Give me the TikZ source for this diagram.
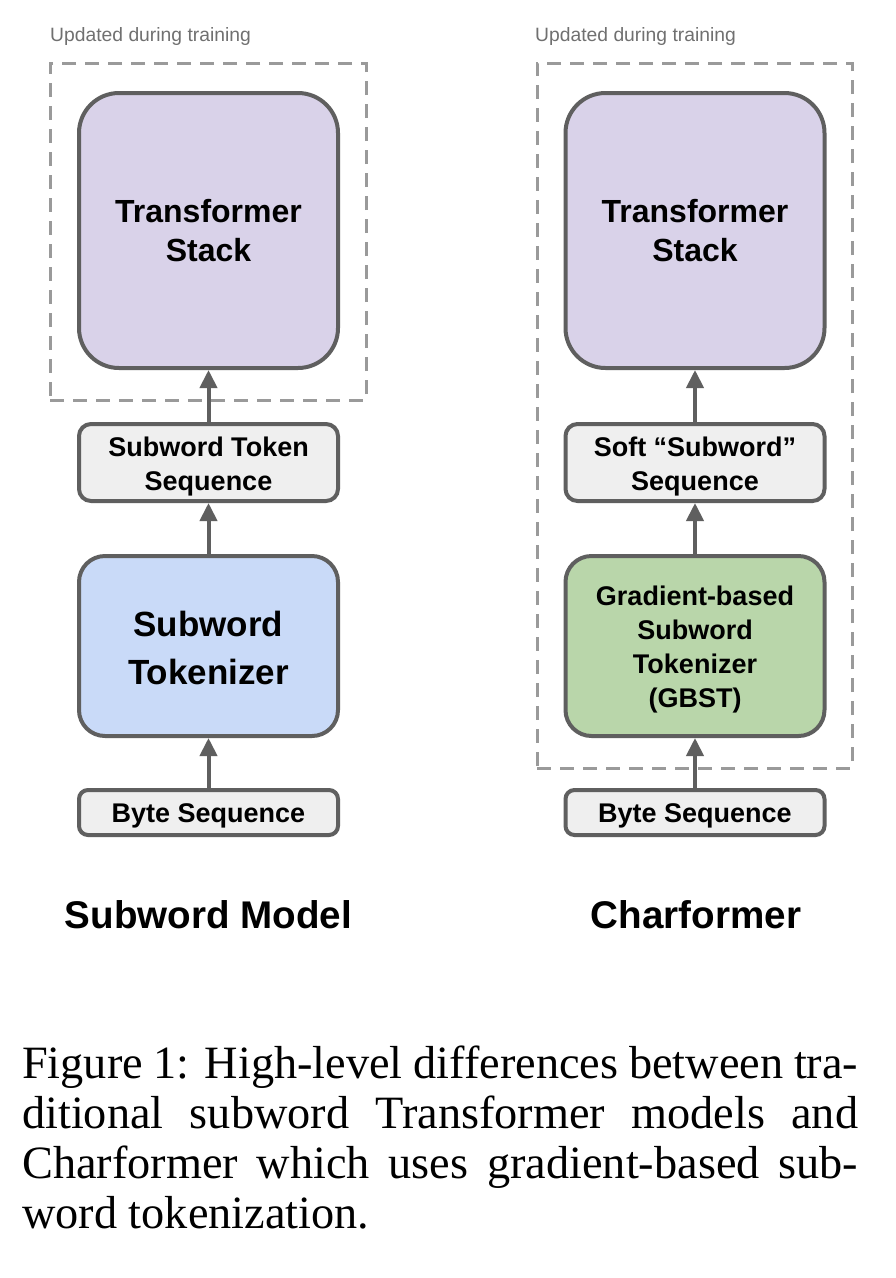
\documentclass[tikz,border=0pt]{standalone}
\usepackage{fontspec}
\setmainfont{Liberation Serif}
\newfontfamily\diagfont{Liberation Sans}
\usetikzlibrary{arrows.meta}
\definecolor{strokeg}{HTML}{5F5F5F}
\definecolor{dashg}{HTML}{9A9A9A}
\definecolor{labelg}{HTML}{707070}
\definecolor{purplef}{HTML}{D9D2E9}
\definecolor{bluef}{HTML}{C9DAF8}
\definecolor{greenf}{HTML}{B9D6AA}
\definecolor{grayf}{HTML}{EFEFEF}
\newcommand\lowtext[2]{\raisebox{-#1}[\height][\depth]{\parbox{255pt}{\centering #2}}}
\tikzset{
  blockbase/.style={draw=strokeg, line width=4pt, align=center, inner sep=0pt, font=\diagfont\bfseries},
  bigbox/.style={blockbase, fill=purplef, rounded corners=40pt, minimum width=259pt, minimum height=275pt, font=\diagfont\bfseries\fontsize{32pt}{39pt}\selectfont},
  tokbox/.style={blockbase, fill=bluef, rounded corners=26pt, minimum width=259pt, minimum height=180pt, font=\diagfont\bfseries\fontsize{35pt}{48pt}\selectfont},
  gbstbox/.style={blockbase, fill=greenf, rounded corners=26pt, minimum width=259pt, minimum height=180pt, font=\diagfont\bfseries\fontsize{27pt}{34pt}\selectfont},
  seqbox/.style={blockbase, fill=grayf, rounded corners=12pt, minimum width=259pt, minimum height=77pt, font=\diagfont\bfseries\fontsize{27pt}{34pt}\selectfont},
  bytebox/.style={blockbase, fill=grayf, rounded corners=9pt, minimum width=259pt, minimum height=45pt, font=\diagfont\bfseries\fontsize{27pt}{34pt}\selectfont},
  dashbox/.style={draw=dashg, line width=3pt, dash pattern=on 14pt off 9pt, inner sep=0pt},
  updlabel/.style={anchor=base west, inner sep=0pt, text=labelg, font=\diagfont\fontsize{19.3pt}{23pt}\selectfont},
  titlelabel/.style={anchor=base, inner sep=0pt, font=\diagfont\bfseries\fontsize{38.6pt}{46pt}\selectfont},
  capline/.style={anchor=base west, inner sep=0pt, font=\fontsize{46.3pt}{50pt}\selectfont},
  uparrow/.style={draw=strokeg, line width=4pt, -{Triangle[width=17pt,length=18pt]}}
}
\begin{document}
\begin{tikzpicture}[x=1pt,y=-1pt]
\useasboundingbox[fill=white] (0,0) rectangle (896,1278);

% dashed training regions
\node (dashL) [dashbox, minimum width=316pt, minimum height=337pt] at (208,231.5) {};
\node (dashR) [dashbox, minimum width=315pt, minimum height=705pt] at (694.5,415.5) {};
\node (updL) [updlabel] at (50,41) {Updated during training};
\node (updR) [updlabel] at (535,41) {Updated during training};

% left column: Subword Model
\node (transL) [bigbox] at (208.5,230.5) {Transformer\\Stack};
\node (seqL) [seqbox] at (208.5,462.5) {\lowtext{4pt}{Subword Token\\Sequence}};
\node (tokL) [tokbox] at (208.5,646) {\lowtext{2pt}{Subword\\Tokenizer}};
\node (byteL) [bytebox] at (208.5,812.5) {\lowtext{3pt}{Byte Sequence}};

% right column: Charformer
\node (transR) [bigbox] at (695,230.5) {Transformer\\Stack};
\node (seqR) [seqbox] at (695,462.5) {\lowtext{4pt}{Soft “Subword”\\Sequence}};
\node (tokR) [gbstbox] at (695,646) {\lowtext{4pt}{Gradient-based\\Subword\\Tokenizer\\(GBST)}};
\node (byteR) [bytebox] at (695,812.5) {\lowtext{3pt}{Byte Sequence}};

% arrows
\draw[uparrow] (seqL.north) -- (transL.south);
\draw[uparrow] (tokL.north) -- (seqL.south);
\draw[uparrow] (byteL.north) -- (tokL.south);
\draw[uparrow] (seqR.north) -- (transR.south);
\draw[uparrow] (tokR.north) -- (seqR.south);
\draw[uparrow] (byteR.north) -- (tokR.south);

% titles
\node (titleL) [titlelabel] at (208.5,928) {Subword Model};
\node (titleR) [titlelabel] at (696,928) {Charformer};

% caption
\node (cap1) [capline] at (22,1078) {\makebox[836pt][s]{Figure 1: High-level differences between tra-}};
\node (cap2) [capline] at (22,1128) {\makebox[836pt][s]{ditional subword Transformer models and}};
\node (cap3) [capline] at (22,1178) {\makebox[836pt][s]{Charformer which uses gradient-based sub-}};
\node (cap4) [capline] at (22,1228) {word tokenization.};
\end{tikzpicture}
\end{document}
